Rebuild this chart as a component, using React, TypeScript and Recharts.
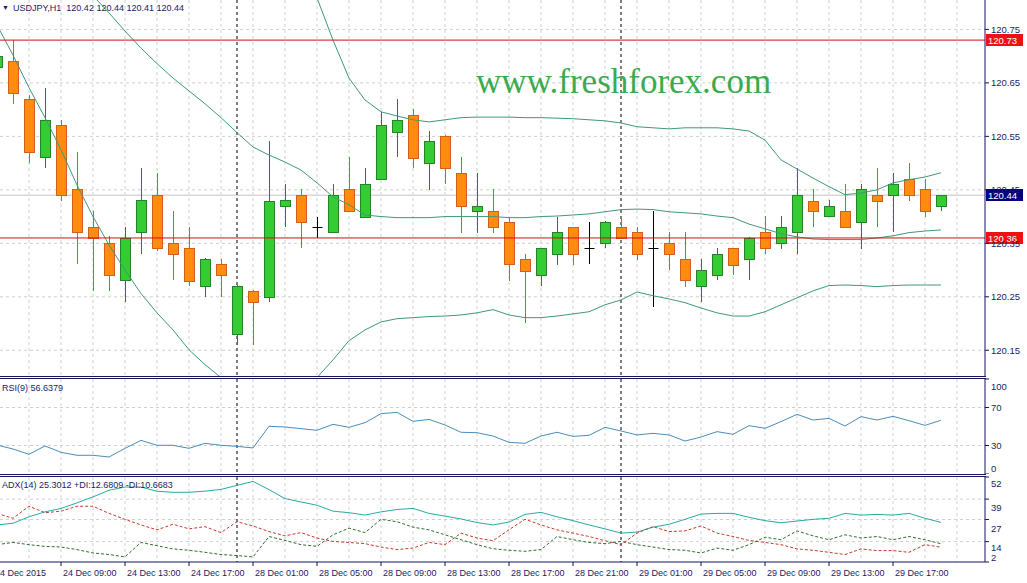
import React from 'react';
import { ComposedChart, Bar, Line, XAxis, YAxis, CartesianGrid, ReferenceLine } from 'recharts';

// USDJPY H1, 24 Dec 2015 05:00 .. 29 Dec 2015 20:00 (one entry per bar)
const opens = [
  120.68, 120.691, 120.62, 120.511, 120.571, 120.451, 120.38, 120.35, 120.282, 120.371,
  120.44, 120.35, 120.341, 120.27, 120.311, 120.18, 120.26, 120.25, 120.42, 120.44,
  120.38, 120.371, 120.452, 120.4, 120.47, 120.559, 120.59, 120.5, 120.551, 120.481,
  120.41, 120.411, 120.39, 120.32, 120.29, 120.33, 120.38, 120.341, 120.35, 120.38,
  120.371, 120.341, 120.35, 120.321, 120.27, 120.29, 120.341, 120.32, 120.371, 120.35,
  120.371, 120.43, 120.401, 120.411, 120.39, 120.44, 120.44, 120.47, 120.451, 120.42,
];
const highs = [
  120.71, 120.73, 120.627, 120.64, 120.581, 120.52, 120.41, 120.363, 120.381, 120.49,
  120.482, 120.41, 120.38, 120.322, 120.32, 120.272, 120.262, 120.542, 120.461, 120.451,
  120.4, 120.461, 120.511, 120.49, 120.596, 120.62, 120.601, 120.56, 120.553, 120.511,
  120.481, 120.452, 120.4, 120.33, 120.342, 120.4, 120.381, 120.39, 120.391, 120.4,
  120.38, 120.411, 120.371, 120.371, 120.321, 120.341, 120.342, 120.361, 120.401, 120.401,
  120.49, 120.451, 120.431, 120.461, 120.461, 120.49, 120.481, 120.5, 120.471, 120.44,
];
const lows = [
  120.67, 120.611, 120.5, 120.491, 120.43, 120.311, 120.261, 120.261, 120.24, 120.33,
  120.335, 120.281, 120.27, 120.25, 120.25, 120.16, 120.16, 120.24, 120.38, 120.341,
  120.36, 120.37, 120.408, 120.398, 120.468, 120.511, 120.49, 120.45, 120.461, 120.37,
  120.37, 120.37, 120.28, 120.201, 120.27, 120.31, 120.31, 120.311, 120.341, 120.358,
  120.319, 120.23, 120.3, 120.269, 120.24, 120.281, 120.29, 120.281, 120.33, 120.34,
  120.33, 120.38, 120.4, 120.38, 120.34, 120.38, 120.371, 120.43, 120.4, 120.41,
];
const closes = [
  120.701, 120.631, 120.52, 120.581, 120.441, 120.371, 120.36, 120.291, 120.36, 120.431,
  120.341, 120.33, 120.28, 120.32, 120.29, 120.27, 120.24, 120.43, 120.431, 120.39,
  120.38, 120.44, 120.41, 120.461, 120.571, 120.58, 120.51, 120.542, 120.491, 120.419,
  120.42, 120.38, 120.311, 120.299, 120.341, 120.371, 120.33, 120.341, 120.39, 120.36,
  120.33, 120.341, 120.33, 120.281, 120.3, 120.33, 120.31, 120.36, 120.341, 120.381,
  120.44, 120.411, 120.42, 120.38, 120.451, 120.43, 120.461, 120.44, 120.411, 120.44,
];

// Bollinger bands (null where the band is far outside the visible range)
const bbUpper = [
  null, null, null, null, null, null, null, null, null, null,
  null, null, null, null, null, null, null, null, 120.95, 120.88,
  120.809, 120.73, 120.659, 120.618, 120.596, 120.588, 120.581, 120.577, 120.581, 120.585,
  120.586, 120.586, 120.586, 120.585, 120.585, 120.584, 120.583, 120.581, 120.579, 120.575,
  120.568, 120.566, 120.564, 120.566, 120.566, 120.566, 120.564, 120.56, 120.543, 120.506,
  120.489, 120.472, 120.456, 120.441, 120.444, 120.45, 120.463, 120.469, 120.474, 120.482,
];
const bbMiddle = [
  null, null, null, null, 120.88, 120.846, 120.813, 120.781, 120.747, 120.715,
  120.686, 120.659, 120.635, 120.611, 120.585, 120.557, 120.53, 120.515, 120.502, 120.487,
  120.463, 120.437, 120.422, 120.403, 120.4, 120.398, 120.398, 120.398, 120.4, 120.4,
  120.4, 120.4, 120.398, 120.398, 120.4, 120.401, 120.403, 120.405, 120.409, 120.413,
  120.414, 120.413, 120.409, 120.407, 120.405, 120.401, 120.398, 120.386, 120.377, 120.368,
  120.362, 120.358, 120.357, 120.357, 120.357, 120.36, 120.364, 120.37, 120.373, 120.375,
];
const bbLower = [
  120.758, 120.702, 120.641, 120.585, 120.525, 120.459, 120.4, 120.347, 120.3, 120.256,
  120.22, 120.188, 120.151, 120.123, 120.099, 120.08, 120.07, 120.065, 120.07, 120.085,
  120.099, 120.132, 120.168, 120.188, 120.203, 120.209, 120.211, 120.213, 120.214, 120.216,
  120.22, 120.226, 120.216, 120.211, 120.211, 120.214, 120.218, 120.222, 120.235, 120.244,
  120.259, 120.252, 120.246, 120.239, 120.229, 120.22, 120.214, 120.214, 120.222, 120.235,
  120.248, 120.261, 120.271, 120.272, 120.271, 120.269, 120.271, 120.272, 120.272, 120.272,
];

const rsi = [
  30.5, 26.3, 20.7, 29.5, 22.8, 19.7, 19.7, 17.9, 27.0, 35.4,
  30.2, 30.2, 27.0, 32.3, 30.2, 29.1, 27.4, 50.2, 49.5, 47.7,
  46.0, 52.3, 49.1, 54.0, 63.5, 64.9, 55.4, 57.5, 51.6, 43.9,
  43.5, 40.0, 33.3, 32.3, 40.0, 43.9, 39.6, 40.7, 49.1, 45.3,
  41.1, 42.8, 41.1, 34.7, 38.9, 44.6, 41.8, 50.9, 48.1, 55.1,
  62.8, 56.8, 58.6, 50.5, 60.4, 56.8, 60.7, 56.1, 51.2, 56.6,
];
const adx = [
  23.8, 24.8, 28.6, 31.5, 33.5, 36.8, 40.3, 44.2, 46.1, 46.1,
  43.6, 43.0, 43.0, 43.7, 44.7, 47.1, 49.4, 44.6, 39.3, 37.3,
  35.4, 31.9, 31.0, 29.6, 31.5, 32.9, 33.5, 30.6, 29.0, 27.3,
  25.2, 23.8, 25.5, 30.0, 31.2, 28.6, 26.3, 23.8, 21.5, 19.0,
  19.6, 22.5, 24.2, 27.1, 30.2, 30.6, 30.6, 28.3, 26.3, 25.1,
  26.1, 27.1, 27.7, 30.6, 29.6, 30.0, 29.6, 30.6, 27.7, 25.3,
];
const plusDi = [
  12.2, 13.5, 12.2, 11.2, 10.8, 9.3, 7.3, 6.4, 5.0, 13.5,
  11.6, 9.7, 8.9, 7.7, 6.4, 5.8, 5.0, 17.0, 14.7, 12.2,
  11.2, 18.0, 21.9, 19.3, 27.1, 25.7, 22.5, 20.9, 18.0, 15.1,
  12.2, 9.8, 8.9, 8.3, 9.3, 17.0, 15.1, 13.5, 12.8, 14.1,
  12.2, 10.8, 9.3, 8.9, 7.3, 10.2, 8.9, 12.2, 16.6, 15.1,
  20.3, 17.4, 15.1, 18.0, 16.1, 17.0, 15.1, 17.0, 15.1, 12.7,
];
const minusDi = [
  30.6, 27.7, 34.8, 31.0, 31.9, 34.8, 34.8, 30.6, 27.1, 23.8,
  20.9, 24.2, 21.5, 22.8, 19.3, 25.7, 23.2, 19.9, 17.4, 19.3,
  16.1, 14.1, 13.5, 12.8, 10.8, 9.3, 10.2, 13.5, 12.2, 19.0,
  16.1, 14.5, 21.0, 27.1, 23.8, 20.9, 19.0, 17.0, 14.5, 12.2,
  19.0, 22.8, 19.9, 20.3, 23.2, 19.0, 17.0, 14.7, 13.5, 12.2,
  9.7, 8.9, 7.7, 6.4, 9.7, 8.7, 8.7, 7.7, 12.2, 10.7,
];

const timeTicks = [0, 4, 8, 12, 16, 20, 24, 28, 32, 36, 40, 44, 48, 52, 56];
const timeLabels = [
  '24 Dec 2015', '24 Dec 09:00', '24 Dec 13:00', '24 Dec 17:00', '28 Dec 01:00',
  '28 Dec 05:00', '28 Dec 09:00', '28 Dec 13:00', '28 Dec 17:00', '28 Dec 21:00',
  '29 Dec 01:00', '29 Dec 05:00', '29 Dec 09:00', '29 Dec 13:00', '29 Dec 17:00',
];
const gridBars = [2, 4, 6, 8, 10, 12, 14, 16, 18, 20, 22, 24, 26, 28, 30, 32, 34, 36, 38, 40, 42, 44, 46, 48, 50, 52, 54, 56, 58, 60];
const dayBreaks = [15, 39];
const priceTicks = [120.15, 120.25, 120.35, 120.45, 120.55, 120.65, 120.75];
const rsiTicks = [0, 30, 70, 100];
const adxTicks = [2, 14, 27, 39, 52];

const rows = opens.map((open, i) => ({
  i,
  open,
  high: highs[i],
  low: lows[i],
  close: closes[i],
  range: [lows[i], highs[i]],
  bbUpper: bbUpper[i],
  bbMiddle: bbMiddle[i],
  bbLower: bbLower[i],
  rsi: rsi[i],
  adx: adx[i],
  plusDi: plusDi[i],
  minusDi: minusDi[i],
}));

const xDomain = [0.1875, 61.75];
const FONT = '"Liberation Sans", Arial, sans-serif';
const FRAME = '#16165e';
const TXT = '#1c1c66';
const GRID = '#cfcfcf';
const BAND = '#3f9a74';

const Candle = (props: any) => {
  const { x, y, width, height, payload } = props;
  const { open, close, high, low } = payload;
  const cx = Math.round(x + width / 2) + 0.5;
  const k = height / (high - low);
  const yOf = (v: number) => y + (high - v) * k;
  const doji = open === close;
  const up = close > open;
  const stroke = doji ? '#000000' : up ? '#23822b' : '#d0601a';
  const fill = up ? '#33cc33' : '#ff8c10';
  const top = Math.round(yOf(Math.max(open, close))) + 0.5;
  const bot = Math.round(yOf(Math.min(open, close))) + 0.5;
  return (
    <g>
      <line x1={cx} x2={cx} y1={Math.round(y)} y2={Math.round(y + height)} stroke={stroke} />
      {doji ? (
        <line x1={cx - 5} x2={cx + 5} y1={top} y2={top} stroke={stroke} />
      ) : (
        <rect x={cx - 5} y={top} width={10} height={Math.max(bot - top, 1)} fill={fill} stroke={stroke} />
      )}
    </g>
  );
};

const PriceTick = (props: any) => {
  const { x, y, payload } = props;
  return (
    <text x={x} y={y} dy={3.5} textAnchor="start" fontSize={9.5} fontFamily={FONT} fill={TXT}>
      {Number(payload.value).toFixed(2)}
    </text>
  );
};

const offsetTick = (offsets: Record<number, number>) => (props: any) => {
  const { x, y, payload } = props;
  return (
    <text x={x} y={y} dy={3.5 + (offsets[payload.value] || 0)} textAnchor="start" fontSize={9.5} fontFamily={FONT} fill={TXT}>
      {payload.value}
    </text>
  );
};
const RsiTick = offsetTick({ 100: 7, 0: -6 });
const AdxTick = offsetTick({ 52: 6, 39: 8, 27: 9, 14: 6, 2: -5 });

const TimeTick = (props: any) => {
  const { x, y, payload } = props;
  const idx = timeTicks.indexOf(payload.value);
  return (
    <text x={idx === 0 ? x - 2 : x + 2} y={y} dy={8} textAnchor="start" fontSize={9} fontFamily={FONT} fill={TXT}>
      {timeLabels[idx]}
    </text>
  );
};

const priceBox = (value: number, bg: string) => (props: any) => {
  const { viewBox } = props;
  const right = viewBox.x + viewBox.width;
  const yy = Math.round(viewBox.y);
  return (
    <g>
      <rect x={right + 1} y={yy - 6} width={37} height={12} fill={bg} />
      <text x={right + 3} y={yy + 3.5} fontSize={9.5} fontFamily={FONT} fill="#ffffff">
        {value.toFixed(2)}
      </text>
    </g>
  );
};

// day separators sit under the candles, so they are drawn as a grid layer
const dayGrid = () => (
  <CartesianGrid horizontal={false} verticalValues={dayBreaks} stroke="#000000" strokeDasharray="3 3" />
);

const hline = (top: number) => (
  <div style={{ position: 'absolute', left: 0, top, width: 986, height: 1, background: FRAME }} />
);

const label = (left: number, top: number, text: string) => (
  <div style={{ position: 'absolute', left, top, fontFamily: FONT, fontSize: 9, color: TXT, whiteSpace: 'pre', lineHeight: '11px' }}>
    {text}
  </div>
);

export default function App() {
  return (
    <div style={{ position: 'absolute', left: 0, top: 0, width: 1027, height: 583, background: '#ffffff', overflow: 'hidden' }}>
      {/* price window */}
      <div style={{ position: 'absolute', left: 0, top: 0 }}>
        <ComposedChart width={1027} height={377} data={rows} margin={{ top: 0, right: 0, left: 0, bottom: 0 }}>
          <CartesianGrid stroke={GRID} strokeDasharray="3 3" horizontalValues={priceTicks} verticalValues={gridBars} />
          <CartesianGrid vertical={false} horizontalValues={[120.44]} stroke="#c4c4c4" />
          {dayGrid()}
          <XAxis type="number" dataKey="i" domain={xDomain} allowDataOverflow hide ticks={gridBars} />
          <YAxis
            orientation="right"
            width={42}
            domain={[120.1, 120.805]}
            allowDataOverflow
            ticks={priceTicks}
            interval={0}
            tick={<PriceTick />}
            tickSize={4}
            tickMargin={2}
            axisLine={{ stroke: FRAME }}
            tickLine={{ stroke: FRAME }}
          />
          <Line dataKey="bbUpper" stroke={BAND} dot={false} strokeWidth={1} isAnimationActive={false} />
          <Line dataKey="bbMiddle" stroke={BAND} dot={false} strokeWidth={1} isAnimationActive={false} />
          <Line dataKey="bbLower" stroke={BAND} dot={false} strokeWidth={1} isAnimationActive={false} />
          <Bar dataKey="range" barSize={10} shape={<Candle />} isAnimationActive={false} />
          <ReferenceLine y={120.73} stroke="#d01010" label={{ content: priceBox(120.73, '#ee1111') }} />
          <ReferenceLine y={120.36} stroke="#d01010" label={{ content: priceBox(120.36, '#ee1111') }} />
          <ReferenceLine y={120.44} stroke="none" label={{ content: priceBox(120.44, '#000080') }} />
        </ComposedChart>
      </div>

      {/* RSI window */}
      <div style={{ position: 'absolute', left: 0, top: 378 }}>
        <ComposedChart width={1027} height={96} data={rows} margin={{ top: 1, right: 0, left: 0, bottom: 0 }}>
          <CartesianGrid stroke={GRID} strokeDasharray="3 3" horizontalValues={[30, 70]} verticalValues={gridBars} />
          {dayGrid()}
          <XAxis type="number" dataKey="i" domain={xDomain} allowDataOverflow hide ticks={gridBars} />
          <YAxis
            orientation="right"
            width={42}
            domain={[0, 100]}
            allowDataOverflow
            ticks={rsiTicks}
            interval={0}
            tick={<RsiTick />}
            tickSize={4}
            tickMargin={2}
            axisLine={{ stroke: FRAME }}
            tickLine={{ stroke: FRAME }}
          />
          <Line dataKey="rsi" stroke="#4a8dbb" dot={false} strokeWidth={1} isAnimationActive={false} />
        </ComposedChart>
      </div>

      {/* ADX window */}
      <div style={{ position: 'absolute', left: 0, top: 476 }}>
        <ComposedChart width={1027} height={106} data={rows} margin={{ top: 1, right: 0, left: 0, bottom: 0 }}>
          <CartesianGrid stroke={GRID} strokeDasharray="3 3" horizontalValues={[14, 27, 39]} verticalValues={gridBars} />
          {dayGrid()}
          <XAxis
            type="number"
            dataKey="i"
            domain={xDomain}
            allowDataOverflow
            ticks={timeTicks}
            interval={0}
            height={20}
            tick={<TimeTick />}
            tickSize={4}
            axisLine={{ stroke: FRAME }}
            tickLine={{ stroke: FRAME }}
          />
          <YAxis
            orientation="right"
            width={42}
            domain={[2, 52]}
            allowDataOverflow
            ticks={adxTicks}
            interval={0}
            tick={<AdxTick />}
            tickSize={4}
            tickMargin={2}
            axisLine={{ stroke: FRAME }}
            tickLine={{ stroke: FRAME }}
          />
          <Line dataKey="adx" stroke="#2aaaa2" dot={false} strokeWidth={1} isAnimationActive={false} />
          <Line dataKey="plusDi" stroke="#2f6e2f" strokeDasharray="3 2" dot={false} strokeWidth={1} isAnimationActive={false} />
          <Line dataKey="minusDi" stroke="#c83a2a" strokeDasharray="3 2" dot={false} strokeWidth={1} isAnimationActive={false} />
        </ComposedChart>
      </div>

      {hline(376)}
      {hline(378)}
      {hline(474)}
      {hline(476)}

      <div style={{ position: 'absolute', left: 2, top: 3, fontSize: 7, color: TXT, lineHeight: '11px' }}>▼</div>
      {label(13, 3, 'USDJPY,H1  120.42 120.44 120.41 120.44')}
      {label(2, 383, 'RSI(9) 56.6379')}
      {label(2, 480, 'ADX(14) 25.3012 +DI:12.6809 -DI:10.6683')}

      <div
        style={{
          position: 'absolute',
          left: 476,
          top: 64,
          fontFamily: '"Liberation Serif", "Times New Roman", serif',
          fontSize: 35,
          lineHeight: '35px',
          color: '#3bab4f',
          whiteSpace: 'nowrap',
        }}
      >
        www.freshforex.com
      </div>
    </div>
  );
}
